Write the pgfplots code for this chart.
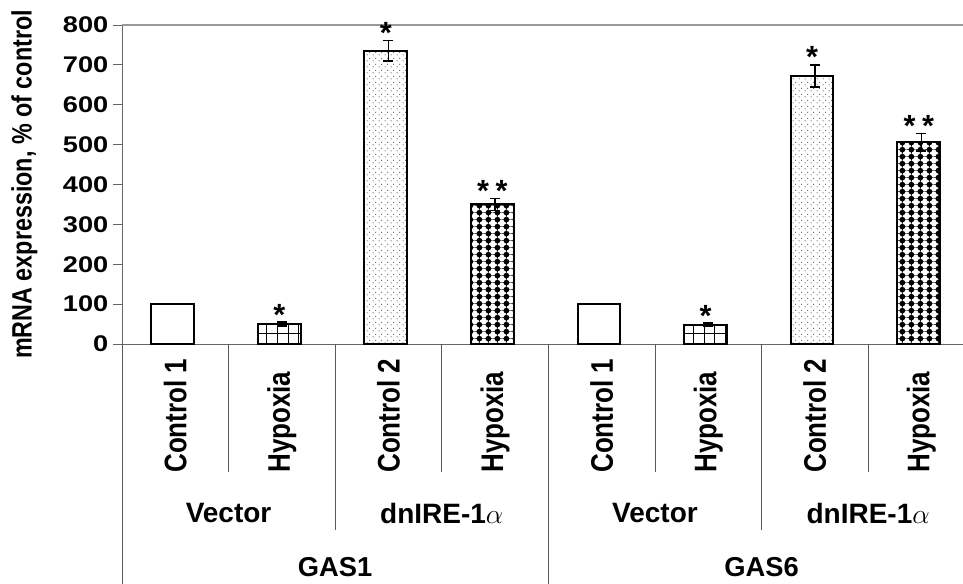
\documentclass[border=0pt]{standalone}
\usepackage{fontspec}
\setmainfont{Liberation Sans}
\usepackage{pgfplots}
\pgfplotsset{compat=1.18}
\usetikzlibrary{patterns}

\pgfdeclarepatternformonly{biggrid}{\pgfqpoint{-1pt}{-1pt}}{\pgfqpoint{9pt}{9pt}}{\pgfqpoint{8pt}{7.5pt}}{%
  \pgfsetlinewidth{0.5pt}%
  \pgfpathmoveto{\pgfqpoint{0pt}{0pt}}\pgfpathlineto{\pgfqpoint{0pt}{7.5pt}}%
  \pgfpathmoveto{\pgfqpoint{0pt}{0pt}}\pgfpathlineto{\pgfqpoint{8pt}{0pt}}%
  \pgfusepath{stroke}}
\pgfdeclarepatternformonly{sparsedots}{\pgfqpoint{0pt}{0pt}}{\pgfqpoint{4.5pt}{4.5pt}}{\pgfqpoint{4.5pt}{4.5pt}}{%
  \pgfpathcircle{\pgfqpoint{1pt}{1pt}}{0.45pt}%
  \pgfpathcircle{\pgfqpoint{3.25pt}{3.25pt}}{0.45pt}%
  \pgfusepath{fill}}
\pgfdeclarepatternformonly{bigdots}{\pgfqpoint{0pt}{0pt}}{\pgfqpoint{7pt}{5.5pt}}{\pgfqpoint{7pt}{5.5pt}}{%
  \pgfpathcircle{\pgfqpoint{3.5pt}{2.75pt}}{2.3pt}\pgfusepath{fill}%
  \pgfsetlinewidth{0.9pt}%
  \pgfpathmoveto{\pgfqpoint{3.5pt}{0pt}}\pgfpathlineto{\pgfqpoint{3.5pt}{5.5pt}}%
  \pgfusepath{stroke}%
  \pgfsetlinewidth{0.5pt}%
  \pgfpathmoveto{\pgfqpoint{0pt}{2.75pt}}\pgfpathlineto{\pgfqpoint{7pt}{2.75pt}}%
  \pgfusepath{stroke}}

\newcommand{\hs}[1]{\scalebox{1.2}[1]{#1}}
\newcommand{\vs}[1]{\scalebox{1}[1.2]{#1}}

\begin{document}
\begin{tikzpicture}
\begin{axis}[
  scale only axis,
  width=630.75pt, height=239.25pt,
  at={(0,0)}, anchor=south west,
  xmin=-0.5, xmax=7.39,
  ymin=0, ymax=800,
  clip=false,
  axis lines*=left,
  axis line style={draw=gray!80!black, line width=0.6pt},
  ytick={0,100,...,800},
  tick align=outside,
  major tick length=6.75pt,
  ytick style={draw=gray!80!black, line width=0.6pt},
  xtick={0,...,7},
  xtick style={draw=none},
  xticklabels={\vs{Control 1},\vs{Hypoxia},\vs{Control 2},\vs{Hypoxia},\vs{Control 1},\vs{Hypoxia},\vs{Control 2},\vs{Hypoxia}},
  xticklabel style={rotate=90, anchor=west, inner sep=0pt, font=\bfseries\fontsize{19.5}{20}\selectfont},
  xticklabel shift=90pt,
  yticklabel={\hs{\pgfmathprintnumber{\tick}}},
  yticklabel style={font=\bfseries\fontsize{17}{18}\selectfont},
  /pgf/number format/assume math mode=true,
  ylabel={\vs{\bfseries mRNA expression, \% of control}},
  ylabel style={font=\fontsize{17.5}{18}\selectfont, at={(axis description cs:-0.116,0.5)}, anchor=center},
  error bars/error bar style={line width=1.3pt, black},
  error bars/error mark options={rotate=90, mark size=3.75pt, line width=1.3pt, black},
]
\addplot[ybar, bar width=0.4, bar shift=-2pt, draw=black, line width=1.5pt, fill=white]
  coordinates {(0,100) (4,100)};
\addplot[ybar, bar width=0.4, bar shift=-2pt, draw=black, line width=1.5pt, pattern=biggrid,
  error bars/.cd, y dir=both, y explicit]
  coordinates {(1,50) +- (0,5) (5,48) +- (0,4)};
\addplot[ybar, bar width=0.4, bar shift=-2pt, draw=black, line width=1.5pt, pattern=sparsedots, pattern color=black!75,
  error bars/.cd, y dir=both, y explicit]
  coordinates {(2,735) +- (0,26) (6,672) +- (0,28)};
\addplot[ybar, bar width=0.4, bar shift=-2pt, draw=black, line width=1.5pt, pattern=bigdots,
  error bars/.cd, y dir=both, y explicit]
  coordinates {(3,350) +- (0,15) (7,506) +- (0,22)};
% significance stars (placed at the top of each error bar)
\addplot[draw=none, mark=none, point meta=explicit symbolic,
  nodes near coords={\pgfplotspointmeta},
  nodes near coords style={anchor=base, inner sep=0pt, xshift=-2pt, yshift=-2.2pt, font=\bfseries\fontsize{23}{23}\selectfont}]
  coordinates {(1,55)[*] (2,761)[*] (3,365)[{*\hspace{5pt}*}] (5,52)[*] (6,700)[*] (7,528)[{*\hspace{5pt}*}]};
% top line
\draw[gray!80, line width=0.8pt] (axis cs:-0.5,800) -- (axis cs:7.39,800);
% category separators
\draw[gray!70!black, line width=0.6pt] (axis cs:0.5,0) -- ++(0pt,-96pt);
\draw[gray!70!black, line width=0.6pt] (axis cs:2.5,0) -- ++(0pt,-96pt);
\draw[gray!70!black, line width=0.6pt] (axis cs:4.5,0) -- ++(0pt,-96pt);
\draw[gray!70!black, line width=0.6pt] (axis cs:6.5,0) -- ++(0pt,-96pt);
\draw[gray!70!black, line width=0.6pt] (axis cs:1.5,0) -- ++(0pt,-139.5pt);
\draw[gray!70!black, line width=0.6pt] (axis cs:5.5,0) -- ++(0pt,-139.5pt);
\draw[gray!70!black, line width=0.6pt] (axis cs:-0.5,0) -- ++(0pt,-185pt);
\draw[gray!70!black, line width=0.6pt] (axis cs:3.5,0) -- ++(0pt,-185pt);
% group labels
\node[font=\bfseries\fontsize{21}{21}\selectfont] at ([yshift=-126.75pt]axis cs:0.5,0) {Vector};
\node[font=\bfseries\fontsize{21}{21}\selectfont] at ([yshift=-126.75pt]axis cs:2.5,0) {dnIRE-1$\alpha$};
\node[font=\bfseries\fontsize{21}{21}\selectfont] at ([yshift=-126.75pt]axis cs:4.5,0) {Vector};
\node[font=\bfseries\fontsize{21}{21}\selectfont] at ([yshift=-126.75pt]axis cs:6.5,0) {dnIRE-1$\alpha$};
\node[font=\bfseries\fontsize{20.5}{20.5}\selectfont] at ([yshift=-167.5pt]axis cs:1.5,0) {GAS1};
\node[font=\bfseries\fontsize{20.5}{20.5}\selectfont] at ([yshift=-167.5pt]axis cs:5.5,0) {GAS6};
\end{axis}
\pgfresetboundingbox
\path (-91.5pt,-179.25pt) rectangle (630.75pt,258pt);
\end{tikzpicture}
\end{document}
